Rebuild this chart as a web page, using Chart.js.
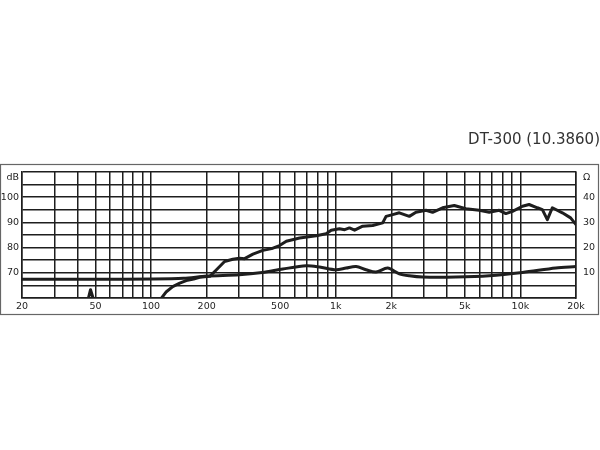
<!DOCTYPE html>
<html lang="en">
<head>
<meta charset="UTF-8">
<title>DT-300 frequency response</title>
<script src="https://cdn.jsdelivr.net/npm/chart.js"></script>
<style>
  body { margin: 0; background: #fff; }
  #wrap { width: 600px; height: 450px; }
</style>
</head>
<body>
<div id="wrap"><canvas id="fr" width="600" height="450"></canvas></div>
<script>
// SPL curve (Hz / dB)
const splFreq = [20, 44, 45.8, 47, 48.5, 50, 80, 108, 114, 121, 131, 143, 155, 170, 183, 208, 226, 250, 277, 301, 321, 356, 403, 450, 496, 540, 637, 784, 887, 945, 1047, 1118, 1186, 1265, 1400, 1585, 1796, 1873, 2033, 2209, 2503, 2719, 3080, 3345, 3788, 4383, 5070, 5985, 6780, 7674, 8338, 9060, 10260, 11140, 12360, 13150, 13990, 14890, 16870, 18700, 20000];
const splDb   = [45, 55, 60, 63.3, 60, 55, 50, 55, 60, 62.5, 64.5, 65.9, 66.9, 67.5, 68.2, 68.6, 71.2, 74.5, 75.4, 75.8, 75.6, 77.4, 78.9, 79.6, 80.8, 82.5, 83.8, 84.7, 85.5, 86.9, 87.5, 87.1, 87.8, 86.9, 88.5, 88.8, 89.8, 92.4, 93.1, 93.8, 92.4, 94, 94.8, 94, 95.8, 96.7, 95.4, 94.8, 94, 94.8, 93.5, 94.4, 96.4, 97.1, 95.8, 95.1, 91.1, 95.8, 93.8, 91.8, 89.1];

// impedance curve (Hz / ohm)
const impFreq = [20, 50, 100, 150, 200, 300, 400, 517, 692, 817, 1004, 1138, 1289, 1459, 1653, 1910, 2209, 2503, 2957, 4477, 6780, 10260, 15530, 20000];
const impOhm  = [7.4, 7.4, 7.5, 7.8, 8.7, 9.2, 10.1, 11.5, 12.8, 12.3, 11.2, 11.9, 12.5, 11.2, 10.3, 11.9, 9.6, 8.8, 8.3, 8.3, 8.8, 10.1, 11.9, 12.5];

// axes
const xGrid = [20, 30, 40, 50, 60, 70, 80, 90, 100, 200, 300, 400, 500, 600, 700, 800, 900, 1000, 2000, 3000, 4000, 5000, 6000, 7000, 8000, 9000, 10000, 20000];
const xTickValues = [20, 50, 100, 200, 500, 1000, 2000, 5000, 10000, 20000];
const xTickLabels = ['20', '50', '100', '200', '500', '1k', '2k', '5k', '10k', '20k'];
const dbTicks = [70, 80, 90, 100];
const ohmTicks = [10, 20, 30, 40];

const ink = '#1e1e1e';
const font = { family: 'DejaVu Sans', size: 9.5 };

// thin grey frame around the whole graph block
const framePlugin = {
  id: 'frame',
  beforeDraw(chart) {
    const c = chart.ctx;
    c.save();
    c.strokeStyle = '#666';
    c.lineWidth = 1.2;
    c.strokeRect(0.5, 164.5, 598, 150);
    c.restore();
  }
};

new Chart(document.getElementById('fr'), {
  type: 'line',
  data: {
    datasets: [
      {
        label: 'SPL',
        data: splFreq.map((f, i) => ({ x: f, y: splDb[i] })),
        yAxisID: 'y',
        borderColor: ink,
        borderWidth: 3,
        borderJoinStyle: 'round',
        pointRadius: 0,
        tension: 0
      },
      {
        label: 'Impedance',
        data: impFreq.map((f, i) => ({ x: f, y: impOhm[i] })),
        yAxisID: 'y2',
        borderColor: ink,
        borderWidth: 3,
        borderJoinStyle: 'round',
        pointRadius: 0,
        tension: 0.3
      }
    ]
  },
  plugins: [framePlugin],
  options: {
    responsive: false,
    animation: false,
    devicePixelRatio: 1,
    layout: { padding: 0 },
    plugins: {
      legend: { display: false },
      tooltip: { enabled: false },
      title: {
        display: true,
        text: 'DT-300 (10.3860)',
        align: 'end',
        color: '#333',
        font: { family: 'DejaVu Sans', size: 15, weight: 'normal' },
        padding: { top: 131, bottom: 23 }
      }
    },
    scales: {
      x: {
        type: 'logarithmic',
        min: 20,
        max: 20000,
        afterBuildTicks: s => { s.ticks = xGrid.map(v => ({ value: v })); },
        afterFit: s => { s.height = 152; },
        grid: { color: ink, lineWidth: 1.5, drawTicks: false },
        border: { color: ink, width: 1.5 },
        ticks: {
          autoSkip: false,
          maxRotation: 0,
          minRotation: 0,
          padding: 3,
          color: ink,
          font: font,
          callback: v => {
            const i = xTickValues.indexOf(v);
            return i >= 0 ? xTickLabels[i] : '';
          }
        }
      },
      y: {
        position: 'left',
        min: 60,
        max: 110,
        afterFit: s => { s.width = 22; },
        grid: { color: ink, lineWidth: 1.5, drawTicks: false },
        border: { color: ink, width: 1.5 },
        ticks: {
          stepSize: 5,
          autoSkip: false,
          padding: 3,
          color: ink,
          font: font,
          callback: v => v === 110 ? ['', 'dB'] : (dbTicks.includes(v) ? String(v) : '')
        }
      },
      y2: {
        position: 'right',
        min: 0,
        max: 50,
        afterFit: s => { s.width = 24; },
        grid: { display: false, drawTicks: false },
        border: { color: ink, width: 1.5 },
        ticks: {
          stepSize: 5,
          autoSkip: false,
          padding: 7,
          color: ink,
          font: font,
          callback: v => v === 50 ? ['', 'Ω'] : (ohmTicks.includes(v) ? String(v) : '')
        }
      }
    }
  }
});
</script>
</body>
</html>
